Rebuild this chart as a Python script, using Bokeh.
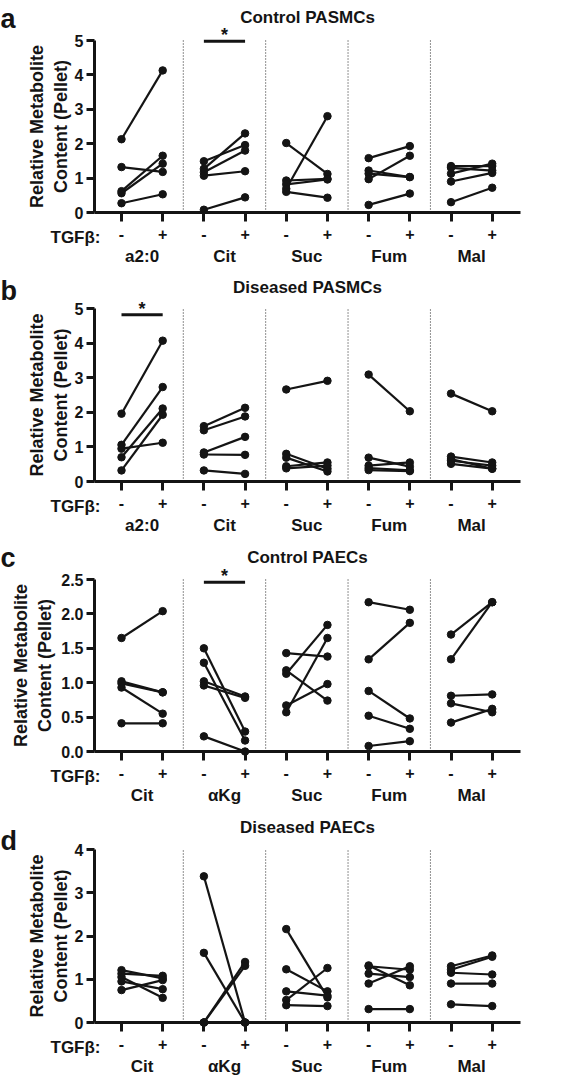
from bokeh.plotting import figure
from bokeh.layouts import column
from bokeh.models import (ColumnDataSource, FixedTicker, NumeralTickFormatter,
                          Label, LinearAxis, Range1d)
from bokeh.embed import file_html
from bokeh.resources import INLINE

# ---------------- data ----------------
treat_labels = ["-", "+"]

a_title = "Control PASMCs"
a_cats = ["a2:0", "Cit", "Suc", "Fum", "Mal"]
a_minus = [[2.13, 1.32, 0.62, 0.56, 0.27],
           [1.49, 1.27, 1.17, 1.07, 0.08],
           [2.02, 0.93, 0.82, 0.69, 0.60],
           [1.58, 1.22, 1.13, 0.97, 0.22],
           [1.35, 1.30, 1.13, 0.90, 0.30]]
a_plus = [[4.13, 1.18, 1.65, 1.42, 0.53],
          [1.96, 2.30, 1.80, 1.20, 0.44],
          [1.12, 0.98, 0.96, 2.80, 0.43],
          [1.93, 1.03, 1.03, 1.65, 0.55],
          [1.35, 1.22, 1.42, 1.15, 0.72]]
a_sig = [1]
a_sig_y = 4.98

b_title = "Diseased PASMCs"
b_cats = ["a2:0", "Cit", "Suc", "Fum", "Mal"]
b_minus = [[1.96, 1.06, 0.95, 0.70, 0.32],
           [1.60, 1.48, 0.84, 0.78, 0.32],
           [2.66, 0.80, 0.69, 0.44, 0.38],
           [3.09, 0.69, 0.46, 0.39, 0.33],
           [2.54, 0.72, 0.65, 0.60, 0.51]]
b_plus = [[4.07, 2.73, 1.12, 2.11, 1.93],
          [2.13, 1.88, 1.29, 0.77, 0.22],
          [2.91, 0.37, 0.29, 0.55, 0.46],
          [2.03, 0.43, 0.55, 0.32, 0.30],
          [2.03, 0.55, 0.37, 0.46, 0.37]]
b_sig = [0]
b_sig_y = 4.82

c_title = "Control PAECs"
c_cats = ["Cit", "αKg", "Suc", "Fum", "Mal"]
c_minus = [[1.65, 1.02, 0.99, 0.93, 0.41],
           [1.50, 1.29, 1.02, 0.96, 0.22],
           [1.43, 1.18, 1.13, 0.67, 0.57],
           [2.17, 1.34, 0.88, 0.52, 0.08],
           [1.70, 1.34, 0.81, 0.70, 0.42]]
c_plus = [[2.04, 0.86, 0.86, 0.55, 0.41],
          [0.29, 0.16, 0.80, 0.78, 0.00],
          [1.38, 0.74, 1.84, 0.98, 1.65],
          [2.06, 1.87, 0.48, 0.33, 0.15],
          [2.17, 2.17, 0.83, 0.57, 0.62]]
c_sig = [1]
c_sig_y = 2.46

d_title = "Diseased PAECs"
d_cats = ["Cit", "αKg", "Suc", "Fum", "Mal"]
d_minus = [[1.21, 1.13, 1.05, 0.95, 0.75],
           [3.38, 1.61, 0.00, 0.00, 0.00],
           [2.16, 1.23, 0.72, 0.52, 0.40],
           [1.32, 1.30, 1.13, 0.90, 0.31],
           [1.30, 1.22, 1.15, 0.90, 0.42]]
d_plus = [[1.02, 1.08, 0.57, 0.77, 0.98],
          [0.00, 0.00, 1.40, 1.31, 0.00],
          [0.58, 0.72, 0.62, 1.26, 0.38],
          [0.86, 1.22, 1.05, 1.30, 0.31],
          [1.55, 1.52, 1.11, 0.90, 0.38]]
d_sig = []
d_sig_y = 0

# ---------------- styling / layout ----------------
FONT = "Liberation Sans"
INK = "#141414"
W = 566
SLOT0_PX, SLOT_PX = 121.0, 41.19     # pixel of first slot, pixels per slot
AXIS_PX, AXIS_END_PX = 94.0, 520.0


def dx(px):
    return (px - SLOT0_PX) / SLOT_PX


def style_text(obj, prefix, size):
    setattr(obj, prefix + "_font", FONT)
    setattr(obj, prefix + "_font_size", size)
    setattr(obj, prefix + "_font_style", "bold")
    setattr(obj, prefix + "_color", INK)


def panel(letter, title, cats, minus, plus, sig, sig_y, axis_max, y_step, fmt,
          fig_top, fig_bot, zero_px, max_px, label_standoff, letter_px, title_px):
    ppu = (zero_px - max_px) / axis_max

    def dy(px):
        return (zero_px - px) / ppu

    p = figure(width=W, height=fig_bot - fig_top, output_backend="svg",
               toolbar_location=None, title=None,
               x_axis_location=None, y_axis_location=None,
               x_range=Range1d(dx(0), dx(W)), y_range=Range1d(dy(fig_bot), dy(fig_top)),
               min_border=0, min_border_left=0, min_border_right=0,
               min_border_top=0, min_border_bottom=0)
    p.outline_line_color = None
    p.grid.visible = False
    p.background_fill_color = "white"
    p.border_fill_color = "white"

    # dotted dividers between metabolites
    div_x = [2 * i + 1.5 for i in range(len(cats) - 1)]
    p.segment(x0=div_x, y0=[0] * len(div_x), x1=div_x, y1=[axis_max] * len(div_x),
              line_color="#222222", line_width=1, line_dash="1 2")

    # paired before/after lines
    x0s, y0s, x1s, y1s = [], [], [], []
    for i in range(len(cats)):
        for m, q in zip(minus[i], plus[i]):
            x0s.append(2 * i); y0s.append(m)
            x1s.append(2 * i + 1); y1s.append(q)
    src = ColumnDataSource(dict(x0=x0s, y0=y0s, x1=x1s, y1=y1s))
    p.segment("x0", "y0", "x1", "y1", source=src, line_color=INK, line_width=2.2)
    p.scatter("x0", "y0", source=src, size=7.5, color=INK)
    p.scatter("x1", "y1", source=src, size=7.5, color=INK)

    # significance bars
    for i in sig:
        p.segment(x0=[2 * i], y0=[sig_y], x1=[2 * i + 1], y1=[sig_y],
                  line_color=INK, line_width=3)
        lab = Label(x=2 * i + 0.5, y=sig_y + 6 / ppu, text="*", text_align="center",
                    text_baseline="alphabetic")
        style_text(lab, "text", "18px")
        p.add_layout(lab)

    # y axis
    ya = LinearAxis(fixed_location=dx(AXIS_PX), bounds=(0, axis_max),
                    ticker=FixedTicker(ticks=[k * y_step for k in range(int(round(axis_max / y_step)) + 1)]),
                    formatter=NumeralTickFormatter(format=fmt))
    ya.minor_tick_line_color = None
    ya.major_tick_in = 0
    ya.major_tick_out = 8
    ya.major_label_standoff = 3
    ya.axis_line_width = 3
    ya.major_tick_line_width = 3
    ya.axis_line_color = INK
    ya.major_tick_line_color = INK
    style_text(ya, "major_label_text", "16px")
    ya.axis_label = "Relative Metabolite\nContent (Pellet)"
    style_text(ya, "axis_label_text", "18px")
    ya.axis_label_standoff = label_standoff
    p.add_layout(ya, "left")

    # x axis with treatment ticks
    n = 2 * len(cats)
    xa = LinearAxis(fixed_location=0, bounds=(dx(AXIS_PX), dx(AXIS_END_PX)),
                    ticker=FixedTicker(ticks=list(range(n))),
                    major_label_overrides={k: treat_labels[k % 2] for k in range(n)})
    xa.minor_tick_line_color = None
    xa.major_tick_in = 0
    xa.major_tick_out = 9
    xa.major_label_standoff = 6
    xa.axis_line_width = 3
    xa.major_tick_line_width = 3
    xa.axis_line_color = INK
    xa.major_tick_line_color = INK
    style_text(xa, "major_label_text", "16px")
    p.add_layout(xa, "below")

    # metabolite names
    cat_pos = [2 * i + 0.5 for i in range(len(cats))]
    ca = LinearAxis(fixed_location=0, bounds=(dx(AXIS_PX), dx(AXIS_END_PX)),
                    ticker=FixedTicker(ticks=cat_pos),
                    major_label_overrides={pos: c for pos, c in zip(cat_pos, cats)})
    ca.axis_line_color = None
    ca.major_tick_line_color = None
    ca.minor_tick_line_color = None
    ca.major_tick_in = 0
    ca.major_tick_out = 0
    ca.major_label_standoff = 34
    style_text(ca, "major_label_text", "17px")
    p.add_layout(ca, "below")

    # TGFβ row label
    tg = Label(x=dx(50), y=dy(zero_px + 25), text="TGFβ:", text_align="left",
               text_baseline="middle")
    style_text(tg, "text", "17px")
    p.add_layout(tg)

    # panel letter and title
    lt = Label(x=dx(0), y=dy(letter_px), text=letter, text_align="left",
               text_baseline="alphabetic")
    style_text(lt, "text", "27px")
    p.add_layout(lt)
    tt = Label(x=dx((AXIS_PX + AXIS_END_PX) / 2), y=dy(title_px), text=title,
               text_align="center", text_baseline="middle")
    style_text(tt, "text", "17px")
    p.add_layout(tt)
    return p


pa = panel("a", a_title, a_cats, a_minus, a_plus, a_sig, a_sig_y, 5, 1, "0",
           fig_top=0, fig_bot=268, zero_px=212, max_px=40, label_standoff=1,
           letter_px=18, title_px=17)
pb = panel("b", b_title, b_cats, b_minus, b_plus, b_sig, b_sig_y, 5, 1, "0",
           fig_top=268, fig_bot=538, zero_px=481, max_px=308, label_standoff=1,
           letter_px=290, title_px=287)
pc = panel("c", c_title, c_cats, c_minus, c_plus, c_sig, c_sig_y, 2.5, 0.5, "0.0",
           fig_top=538, fig_bot=808, zero_px=751, max_px=579, label_standoff=3,
           letter_px=557, title_px=557)
pd = panel("d", d_title, d_cats, d_minus, d_plus, d_sig, d_sig_y, 4, 1, "0",
           fig_top=808, fig_bot=1076, zero_px=1022, max_px=849, label_standoff=1,
           letter_px=840, title_px=827)

layout = column(pa, pb, pc, pd, spacing=0)
open("out.html", "w").write(file_html(layout, INLINE))
